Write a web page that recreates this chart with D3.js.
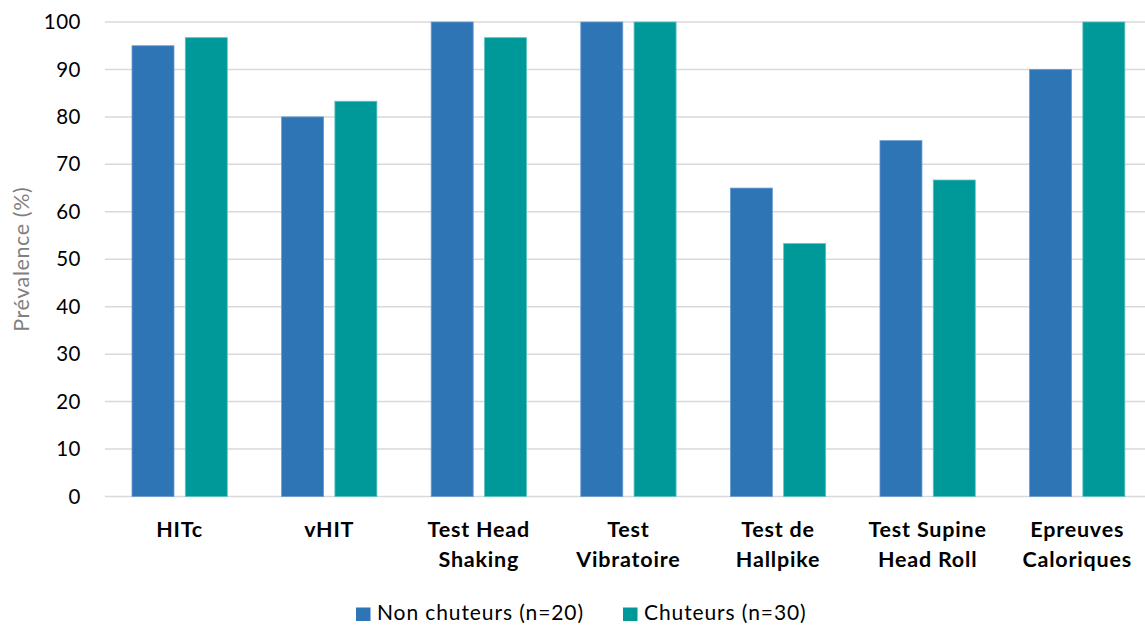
<!DOCTYPE html>
<html>
<head>
<meta charset="utf-8">
<script src="https://cdn.jsdelivr.net/npm/d3@7"></script>
<style>
  html, body { margin: 0; padding: 0; background: #fff; }
  svg { display: block; font-family: Lato, "Open Sans", sans-serif; }
</style>
</head>
<body>
<svg id="chart" width="1145" height="625"></svg>
<script>
// Test categories (two-line labels)
const categories = [
  ["HITc"],
  ["vHIT"],
  ["Test Head", "Shaking"],
  ["Test", "Vibratoire"],
  ["Test de", "Hallpike"],
  ["Test Supine", "Head Roll"],
  ["Epreuves", "Caloriques"]
];
const seriesNames = ["Non chuteurs (n=20)", "Chuteurs (n=30)"];
const nonChuteurs = [95, 80, 100, 100, 65, 75, 90];
const chuteurs = [96.7, 83.3, 96.7, 100, 53.3, 66.7, 100];
const yTicks = [0, 10, 20, 30, 40, 50, 60, 70, 80, 90, 100];
const colors = ["#2E75B6", "#009999"];

const svg = d3.select("#chart");
const plotLeft = 104.85, plotRight = 1152, plotTop = 22, plotBottom = 496.5;

const x = d3.scaleBand().domain(d3.range(categories.length)).range([plotLeft, plotRight]).paddingInner(0).paddingOuter(0);
const x1 = d3.scaleBand().domain([0, 1]).range([0, x.bandwidth()]).paddingInner(0.212).paddingOuter(0.5095);
const y = d3.scaleLinear().domain([0, 100]).range([plotBottom, plotTop]);

// Gridlines
svg.append("g").selectAll("line").data(yTicks).join("line")
  .attr("x1", plotLeft).attr("x2", plotRight)
  .attr("y1", d => y(d)).attr("y2", d => y(d))
  .attr("stroke", "#d9d9d9").attr("stroke-width", 1.5);

// Y axis labels
const yAxis = d3.axisLeft(y).tickValues(yTicks).tickSize(0).tickPadding(0);
const yg = svg.append("g").attr("transform", `translate(81,0)`).call(yAxis);
yg.select(".domain").remove();
yg.selectAll("text").attr("font-size", 20.5).attr("fill", "#000")
  .attr("font-family", "Lato, sans-serif").attr("letter-spacing", 0.5);

// Y title
svg.append("text")
  .attr("transform", `translate(29,${(plotTop + plotBottom) / 2}) rotate(-90)`)
  .attr("text-anchor", "middle")
  .attr("font-size", 21.5).attr("fill", "#7f7f7f").attr("letter-spacing", 0.6)
  .text("Prévalence (%)");

// Bars
const series = [nonChuteurs, chuteurs];
series.forEach((vals, s) => {
  svg.append("g").selectAll("rect").data(vals).join("rect")
    .attr("x", (d, i) => x(i) + x1(s))
    .attr("width", x1.bandwidth())
    .attr("y", d => y(d))
    .attr("height", d => y(0) - y(d))
    .attr("fill", colors[s])
    .attr("stroke", s === 0 ? "#6b9bd0" : "#5cc2c2")
    .attr("stroke-width", 0.8);
});

// X axis labels
const xl = svg.append("g");
categories.forEach((lines, i) => {
  const cx = x(i) + x.bandwidth() / 2;
  const t = xl.append("text")
    .attr("x", cx)
    .attr("y", 537)
    .attr("text-anchor", "middle")
    .attr("font-size", 21.5).attr("font-weight", "bold").attr("fill", "#000")
    .attr("letter-spacing", 0.8);
  lines.forEach((ln, k) => {
    t.append("tspan").attr("x", cx).attr("dy", k === 0 ? 0 : 29.5).text(ln);
  });
});

// Legend
const legendX = [356, 623];
seriesNames.forEach((name, s) => {
  svg.append("rect").attr("x", legendX[s]).attr("y", 607.5).attr("width", 14.5).attr("height", 13.5).attr("fill", colors[s]);
  svg.append("text").attr("x", legendX[s] + 21).attr("y", 620)
    .attr("font-size", 21).attr("fill", "#000").attr("letter-spacing", 0.9).text(name);
});
</script>
</body>
</html>
